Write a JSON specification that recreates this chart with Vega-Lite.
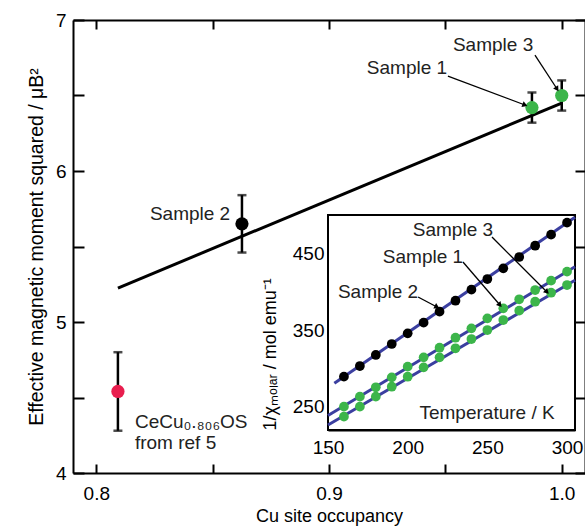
{
  "$schema": "https://vega.github.io/schema/vega-lite/v6.json",
  "autosize": {"type": "none"},
  "padding": {"left": 73, "top": 20, "right": 0, "bottom": 53},
  "width": 512,
  "height": 453,
  "background": "white",
  "config": {
    "view": {"stroke": null},
    "font": "Liberation Sans",
    "axis": {
      "grid": false,
      "domainColor": "black",
      "domainWidth": 2,
      "tickColor": "black",
      "tickWidth": 2,
      "labelColor": "black",
      "titleColor": "black",
      "labelFont": "Liberation Sans",
      "titleFont": "Liberation Sans",
      "titleFontWeight": "normal",
      "labelFlush": false,
      "labelOverlap": false
    },
    "text": {"font": "Liberation Sans", "color": "#222222"}
  },
  "datasets": {
    "main": [
      {"name": "Sample 1", "x": 0.9872, "y": 6.42, "lo": 6.32, "hi": 6.52},
      {"name": "Sample 2", "x": 0.8626, "y": 5.65, "lo": 5.46, "hi": 5.84},
      {"name": "Sample 3", "x": 1.0, "y": 6.5, "lo": 6.4, "hi": 6.6},
      {"name": "CeCu0.806OS", "x": 0.8093, "y": 4.54, "lo": 4.28, "hi": 4.8}
    ],
    "mainFit": [
      {"x": 0.8093, "y": 5.225},
      {"x": 1.0, "y": 6.45}
    ],
    "mainLabelsCenter": [
      {"text": "Sample 2", "x": 0.8403, "y": 5.715},
      {"text": "Sample 1", "x": 0.9335, "y": 6.682},
      {"text": "Sample 3", "x": 0.9705, "y": 6.834}
    ],
    "mainLabelsLeft": [
      {"text": "CeCu₀.₈₀₆OS", "x": 0.8166, "y": 4.338},
      {"text": "from ref 5", "x": 0.8166, "y": 4.199}
    ],
    "mainArrows": [
      {"name": "Sample 1", "x": 0.9511, "y": 6.629, "x2": 0.9842, "y2": 6.437},
      {"name": "Sample 3", "x": 0.9885, "y": 6.768, "x2": 0.998, "y2": 6.543}
    ],
    "frame": [
      {"T0": 150, "T1": 305, "v0": 220, "v1": 500}
    ],
    "inset": [
      {"sample": "Sample 2", "T": 160, "v": 289.5},
      {"sample": "Sample 2", "T": 170, "v": 303.3},
      {"sample": "Sample 2", "T": 180, "v": 317.7},
      {"sample": "Sample 2", "T": 190, "v": 332.0},
      {"sample": "Sample 2", "T": 200, "v": 345.9},
      {"sample": "Sample 2", "T": 210, "v": 359.8},
      {"sample": "Sample 2", "T": 220, "v": 374.1},
      {"sample": "Sample 2", "T": 230, "v": 388.4},
      {"sample": "Sample 2", "T": 240, "v": 402.8},
      {"sample": "Sample 2", "T": 250, "v": 416.6},
      {"sample": "Sample 2", "T": 260, "v": 430.5},
      {"sample": "Sample 2", "T": 270, "v": 445.3},
      {"sample": "Sample 2", "T": 280, "v": 460.0},
      {"sample": "Sample 2", "T": 290, "v": 474.4},
      {"sample": "Sample 2", "T": 300, "v": 490.0},
      {"sample": "Sample 1", "T": 160, "v": 250.4},
      {"sample": "Sample 1", "T": 170, "v": 263.4},
      {"sample": "Sample 1", "T": 180, "v": 275.6},
      {"sample": "Sample 1", "T": 190, "v": 288.6},
      {"sample": "Sample 1", "T": 200, "v": 302.5},
      {"sample": "Sample 1", "T": 210, "v": 314.6},
      {"sample": "Sample 1", "T": 220, "v": 327.2},
      {"sample": "Sample 1", "T": 230, "v": 340.2},
      {"sample": "Sample 1", "T": 240, "v": 352.4},
      {"sample": "Sample 1", "T": 250, "v": 365.4},
      {"sample": "Sample 1", "T": 260, "v": 378.4},
      {"sample": "Sample 1", "T": 270, "v": 390.2},
      {"sample": "Sample 1", "T": 280, "v": 402.3},
      {"sample": "Sample 1", "T": 290, "v": 414.5},
      {"sample": "Sample 1", "T": 300, "v": 426.2},
      {"sample": "Sample 3", "T": 160, "v": 237.4},
      {"sample": "Sample 3", "T": 170, "v": 250.4},
      {"sample": "Sample 3", "T": 180, "v": 263.4},
      {"sample": "Sample 3", "T": 190, "v": 276.4},
      {"sample": "Sample 3", "T": 200, "v": 289.4},
      {"sample": "Sample 3", "T": 210, "v": 301.6},
      {"sample": "Sample 3", "T": 220, "v": 314.6},
      {"sample": "Sample 3", "T": 230, "v": 326.4},
      {"sample": "Sample 3", "T": 240, "v": 338.5},
      {"sample": "Sample 3", "T": 250, "v": 350.2},
      {"sample": "Sample 3", "T": 260, "v": 363.2},
      {"sample": "Sample 3", "T": 270, "v": 375.4},
      {"sample": "Sample 3", "T": 280, "v": 387.1},
      {"sample": "Sample 3", "T": 290, "v": 398.8},
      {"sample": "Sample 3", "T": 300, "v": 408.8}
    ],
    "insetFit": [
      {"sample": "Sample 2", "T": 154, "v": 281.0},
      {"sample": "Sample 2", "T": 305, "v": 497.0},
      {"sample": "Sample 1", "T": 150, "v": 239.0},
      {"sample": "Sample 1", "T": 305, "v": 432.5},
      {"sample": "Sample 3", "T": 150, "v": 226.5},
      {"sample": "Sample 3", "T": 305, "v": 415.0}
    ],
    "insetLabels": [
      {"text": "Sample 3", "T": 228.4, "v": 480.5},
      {"text": "Sample 1", "T": 209.6, "v": 445.3},
      {"text": "Sample 2", "T": 181.4, "v": 399.7},
      {"text": "Temperature / K", "T": 249.8, "v": 242.1}
    ],
    "insetArrows": [
      {"name": "Sample 3", "T": 252.9, "v": 471.3, "T2": 287.4, "v2": 399.7},
      {"name": "Sample 1", "T": 234.7, "v": 438.8, "T2": 257.9, "v2": 382.8},
      {"name": "Sample 2", "T": 206.5, "v": 393.2, "T2": 218.4, "v2": 380.2}
    ]
  },
  "layer": [
    {
      "layer": [
        {
          "data": {"name": "mainFit"},
          "mark": {"type": "line", "color": "black", "strokeWidth": 3},
          "encoding": {
            "x": {
              "field": "x", "type": "quantitative",
              "scale": {"domain": [0.79, 1.01], "nice": false, "zero": false},
              "axis": {
                "orient": "bottom",
                "title": "Cu site occupancy",
                "titleFontSize": 18,
                "titlePadding": 4,
                "values": [0.8, 0.85, 0.9, 0.95, 1.0],
                "format": ".1f",
                "labelExpr": "round(datum.value*100) % 10 == 0 ? datum.label : ''",
                "labelFontSize": 19,
                "tickSize": -9,
                "labelPadding": 20
              }
            },
            "y": {
              "field": "y", "type": "quantitative",
              "scale": {"domain": [4, 7], "nice": false, "zero": false},
              "axis": {
                "orient": "left",
                "title": "Effective magnetic moment squared / μB²",
                "titleFontSize": 19.5,
                "titlePadding": 9,
                "values": [4, 4.5, 5, 5.5, 6, 6.5, 7],
                "format": ".1f",
                "labelExpr": "datum.value % 1 == 0 ? format(datum.value, 'd') : ''",
                "labelFontSize": 19,
                "tickSize": -11,
                "labelPadding": 18
              }
            }
          }
        },
        {
          "data": {"name": "main"},
          "mark": {"type": "rule", "color": "black", "strokeWidth": 2.5},
          "encoding": {
            "x": {"field": "x", "type": "quantitative"},
            "y": {"field": "lo", "type": "quantitative"},
            "y2": {"field": "hi"}
          }
        },
        {
          "data": {"name": "main"},
          "mark": {"type": "tick", "orient": "horizontal", "color": "black", "size": 9, "thickness": 2.5},
          "encoding": {
            "x": {"field": "x", "type": "quantitative"},
            "y": {"field": "lo", "type": "quantitative"}
          }
        },
        {
          "data": {"name": "main"},
          "mark": {"type": "tick", "orient": "horizontal", "color": "black", "size": 9, "thickness": 2.5},
          "encoding": {
            "x": {"field": "x", "type": "quantitative"},
            "y": {"field": "hi", "type": "quantitative"}
          }
        },
        {
          "data": {"name": "main"},
          "mark": {"type": "point", "filled": true, "opacity": 1, "size": 175},
          "encoding": {
            "x": {"field": "x", "type": "quantitative"},
            "y": {"field": "y", "type": "quantitative"},
            "color": {
              "field": "name", "type": "nominal", "legend": null,
              "scale": {"domain": ["Sample 1", "Sample 2", "Sample 3", "CeCu0.806OS"], "range": ["#3cb54a", "#000000", "#3cb54a", "#e81e4e"]}
            }
          }
        },
        {
          "data": {"name": "mainLabelsCenter"},
          "mark": {"type": "text", "fontSize": 19, "align": "center", "baseline": "middle"},
          "encoding": {
            "x": {"field": "x", "type": "quantitative"},
            "y": {"field": "y", "type": "quantitative"},
            "text": {"field": "text"}
          }
        },
        {
          "data": {"name": "mainLabelsLeft"},
          "mark": {"type": "text", "fontSize": 19, "align": "left", "baseline": "middle"},
          "encoding": {
            "x": {"field": "x", "type": "quantitative"},
            "y": {"field": "y", "type": "quantitative"},
            "text": {"field": "text"}
          }
        },
        {
          "data": {"name": "mainArrows"},
          "mark": {"type": "rule", "color": "black", "strokeWidth": 1.3},
          "encoding": {
            "x": {"field": "x", "type": "quantitative"},
            "y": {"field": "y", "type": "quantitative"},
            "x2": {"field": "x2"},
            "y2": {"field": "y2"}
          }
        },
        {
          "data": {"name": "mainArrows"},
          "transform": [{"filter": "datum.name == 'Sample 1'"}],
          "mark": {"type": "point", "shape": "triangle-up", "filled": true, "color": "black", "opacity": 1, "size": 36, "angle": 111},
          "encoding": {
            "x": {"field": "x2", "type": "quantitative"},
            "y": {"field": "y2", "type": "quantitative"}
          }
        },
        {
          "data": {"name": "mainArrows"},
          "transform": [{"filter": "datum.name == 'Sample 3'"}],
          "mark": {"type": "point", "shape": "triangle-up", "filled": true, "color": "black", "opacity": 1, "size": 36, "angle": 147},
          "encoding": {
            "x": {"field": "x2", "type": "quantitative"},
            "y": {"field": "y2", "type": "quantitative"}
          }
        }
      ]
    },
    {
      "data": {"name": "mainFit"},
      "mark": {"type": "rule", "opacity": 0},
      "encoding": {
        "x": {
          "field": "x", "type": "quantitative",
          "scale": {"domain": [0.79, 1.01], "nice": false, "zero": false},
          "axis": {"orient": "top", "title": null, "labels": false, "values": [0.8, 0.85, 0.9, 0.95, 1.0], "tickSize": -9}
        },
        "y": {
          "field": "y", "type": "quantitative",
          "scale": {"domain": [4, 7], "nice": false, "zero": false},
          "axis": {"orient": "right", "title": null, "labels": false, "values": [4, 4.5, 5, 5.5, 6, 6.5, 7], "tickSize": -10}
        }
      }
    },
    {
      "layer": [
        {
          "data": {"name": "frame"},
          "mark": {"type": "rect", "fill": "white", "stroke": "black", "strokeWidth": 2},
          "encoding": {
            "x": {
              "field": "T0", "type": "quantitative",
              "scale": {"domain": [150, 305], "range": [255, 502], "nice": false, "zero": false},
              "axis": {
                "orient": "bottom",
                "offset": -43,
                "title": null,
                "values": [150, 200, 250, 300],
                "labelFontSize": 19,
                "tickSize": -5,
                "labelPadding": 13
              }
            },
            "x2": {"field": "T1"},
            "y": {
              "field": "v0", "type": "quantitative",
              "scale": {"domain": [220, 500], "range": [410, 195], "nice": false, "zero": false},
              "axis": {
                "orient": "left",
                "offset": -255,
                "title": "1/χₘₒₗₐᵣ / mol emu⁻¹",
                "titleFontSize": 18,
                "titleAnchor": "start",
                "titlePadding": 13,
                "values": [250, 300, 350, 400, 450],
                "labelExpr": "datum.value % 100 == 50 ? datum.label : ''",
                "labelFontSize": 19,
                "tickSize": -5,
                "labelPadding": 9
              }
            },
            "y2": {"field": "v1"}
          }
        },
        {
          "data": {"name": "insetFit"},
          "mark": {"type": "line", "color": "#3b3fa0", "strokeWidth": 3},
          "encoding": {
            "x": {"field": "T", "type": "quantitative"},
            "y": {"field": "v", "type": "quantitative"},
            "detail": {"field": "sample"}
          }
        },
        {
          "data": {"name": "inset"},
          "mark": {"type": "point", "filled": true, "opacity": 1, "size": 95},
          "encoding": {
            "x": {"field": "T", "type": "quantitative"},
            "y": {"field": "v", "type": "quantitative"},
            "color": {
              "field": "sample", "type": "nominal", "legend": null,
              "scale": {"domain": ["Sample 1", "Sample 2", "Sample 3", "CeCu0.806OS"], "range": ["#3cb54a", "#000000", "#3cb54a", "#e81e4e"]}
            }
          }
        },
        {
          "data": {"name": "insetLabels"},
          "mark": {"type": "text", "fontSize": 19, "align": "center", "baseline": "middle"},
          "encoding": {
            "x": {"field": "T", "type": "quantitative"},
            "y": {"field": "v", "type": "quantitative"},
            "text": {"field": "text"}
          }
        },
        {
          "data": {"name": "insetArrows"},
          "mark": {"type": "rule", "color": "black", "strokeWidth": 1.3},
          "encoding": {
            "x": {"field": "T", "type": "quantitative"},
            "y": {"field": "v", "type": "quantitative"},
            "x2": {"field": "T2"},
            "y2": {"field": "v2"}
          }
        },
        {
          "data": {"name": "insetArrows"},
          "transform": [{"filter": "datum.name == 'Sample 3'"}],
          "mark": {"type": "point", "shape": "triangle-up", "filled": true, "color": "black", "opacity": 1, "size": 36, "angle": 135},
          "encoding": {
            "x": {"field": "T2", "type": "quantitative"},
            "y": {"field": "v2", "type": "quantitative"}
          }
        },
        {
          "data": {"name": "insetArrows"},
          "transform": [{"filter": "datum.name == 'Sample 1'"}],
          "mark": {"type": "point", "shape": "triangle-up", "filled": true, "color": "black", "opacity": 1, "size": 36, "angle": 139},
          "encoding": {
            "x": {"field": "T2", "type": "quantitative"},
            "y": {"field": "v2", "type": "quantitative"}
          }
        },
        {
          "data": {"name": "insetArrows"},
          "transform": [{"filter": "datum.name == 'Sample 2'"}],
          "mark": {"type": "point", "shape": "triangle-up", "filled": true, "color": "black", "opacity": 1, "size": 36, "angle": 118},
          "encoding": {
            "x": {"field": "T2", "type": "quantitative"},
            "y": {"field": "v2", "type": "quantitative"}
          }
        }
      ]
    },
    {
      "data": {"name": "frame"},
      "mark": {"type": "rule", "opacity": 0},
      "encoding": {
        "x": {
          "field": "T0", "type": "quantitative",
          "scale": {"domain": [150, 305], "range": [255, 502], "nice": false, "zero": false},
          "axis": {"orient": "top", "offset": -195, "title": null, "labels": false, "domain": false, "values": [200, 250, 300], "tickSize": -5}
        },
        "y": {
          "field": "v0", "type": "quantitative",
          "scale": {"domain": [220, 500], "range": [410, 195], "nice": false, "zero": false},
          "axis": {"orient": "right", "offset": -10, "title": null, "labels": false, "domain": false, "values": [250, 300, 350, 400, 450], "tickSize": -5}
        }
      }
    }
  ],
  "resolve": {
    "scale": {"x": "independent", "y": "independent"},
    "axis": {"x": "independent", "y": "independent"}
  }
}
